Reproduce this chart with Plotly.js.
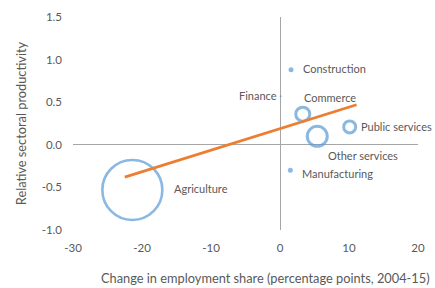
<!DOCTYPE html>
<html>
<head>
<meta charset="utf-8">
<script src="https://cdn.plot.ly/plotly-3.0.1.min.js"></script>
<style>html,body{margin:0;padding:0;background:#fff;}#chart{width:435px;height:288px;}</style>
</head>
<body>
<div id="chart"></div>
<script>
// Data
const sectors = ["Agriculture", "Construction", "Finance", "Commerce", "Other services", "Public services", "Manufacturing"];
const employmentChange = [-21.4, 1.6, 0.1, 3.3, 5.4, 10.1, 1.5];
const relativeProductivity = [-0.53, 0.88, 0.57, 0.36, 0.10, 0.21, -0.30];
const employmentWeight = [60, 5, 2, 14, 20, 12, 5];
const trendX = [-22.5, 11.1];
const trendY = [-0.38, 0.47];
const xTicks = [-30, -20, -10, 0, 10, 20];
const yTicks = [-1.0, -0.5, 0.0, 0.5, 1.0, 1.5];

const labelX = [-15.7, 3.0, -0.1, 7.3, 12.0, 11.5, 2.9];
const labelY = [-0.51, 0.90, 0.58, 0.555, -0.13, 0.21, -0.34];
const labelAnchor = ["left", "left", "right", "center", "center", "left", "left"];

const blue = "#5B9BD5";
const gray = "#595959";
const font = "Lato, 'Open Sans', sans-serif";

const filled = employmentWeight.map(w => w <= 5);

const bubbles = {
  type: "scatter", mode: "markers",
  x: employmentChange, y: relativeProductivity, text: sectors,
  marker: {
    size: employmentWeight, sizemode: "diameter", sizeref: 1,
    color: filled.map(f => f ? blue : "rgba(255,255,255,0)"),
    line: { color: blue, width: employmentWeight.map(w => w <= 5 ? 0 : (w > 40 ? 2.6 : 3)) }
  },
  hoverinfo: "text", showlegend: false
};
const trend = {
  type: "scatter", mode: "lines", x: trendX, y: trendY,
  line: { color: "#ED7D31", width: 2.8 }, hoverinfo: "skip", showlegend: false
};

const annotations = sectors.map((s, i) => ({
  x: labelX[i], y: labelY[i], xref: "x", yref: "y", text: s, showarrow: false,
  xanchor: labelAnchor[i], yanchor: "middle",
  font: { family: font, size: 11, color: gray }
}));
annotations.push({
  x: (265 - 73) / (418 - 73), y: -0.225, xref: "paper", yref: "paper",
  text: "Change in employment share (percentage points, 2004-15)",
  showarrow: false, xanchor: "center", yanchor: "middle",
  font: { family: font, size: 12.8, color: gray }
});

const layout = {
  width: 435, height: 288,
  margin: { l: 73, r: 17, t: 17, b: 58 },
  paper_bgcolor: "#fff", plot_bgcolor: "#fff",
  font: { family: font, color: gray, size: 11 },
  xaxis: {
    range: [-30, 20], tickvals: xTicks, ticktext: xTicks.map(String),
    showgrid: false, zeroline: true, zerolinecolor: "#A6A6A6", zerolinewidth: 1,
    showline: false, ticks: "", ticklabelstandoff: 9,
    tickfont: { family: font, size: 11.5, color: gray }, fixedrange: true
  },
  yaxis: {
    range: [-1.0, 1.5], tickvals: yTicks, ticktext: yTicks.map(v => v.toFixed(1)),
    showgrid: false, zeroline: true, zerolinecolor: "#A6A6A6", zerolinewidth: 1,
    showline: false, ticks: "", ticklabelstandoff: 10,
    tickfont: { family: font, size: 11.5, color: gray },
    title: { text: "Relative sectoral productivity", font: { family: font, size: 12.8, color: gray }, standoff: 12 },
    fixedrange: true
  },
  annotations: annotations
};

Plotly.newPlot("chart", [bubbles, trend], layout, { displayModeBar: false, staticPlot: true });
</script>
</body>
</html>
